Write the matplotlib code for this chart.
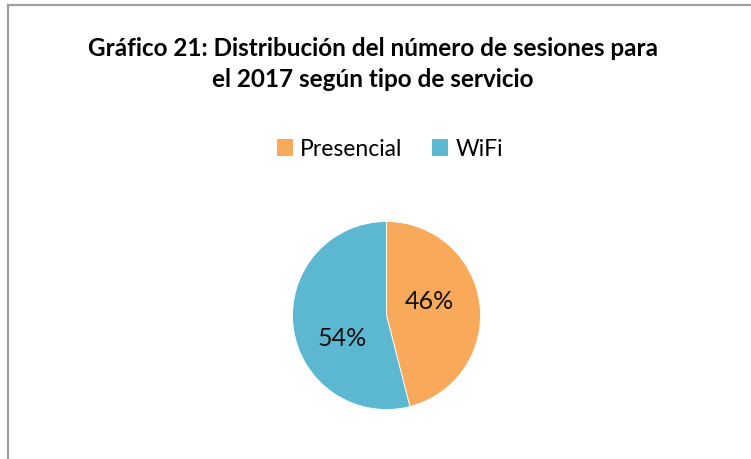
import matplotlib
matplotlib.use("Agg")
from matplotlib import pyplot as plt
from matplotlib.lines import Line2D
from matplotlib.patches import Patch

# data
categories = ["Presencial", "WiFi"]
values = [46, 54]
colors = ["#F9A95A", "#5BB8D0"]
title = "Gráfico 21: Distribución del número de sesiones para\nel 2017 según tipo de servicio"

W, H = 751, 460
fig = plt.figure(figsize=(W / 100, H / 100), dpi=100)
plt.rcParams['font.family'] = ['Lato', 'DejaVu Sans']

# frame of the chart area (left and top edges visible)
fig.add_artist(Line2D([7.5 / W, 7.5 / W], [0, 1 - 5.5 / H], transform=fig.transFigure,
                      color="#A0A0A0", lw=1.6))
fig.add_artist(Line2D([7.5 / W, 1], [1 - 5.5 / H, 1 - 5.5 / H], transform=fig.transFigure,
                      color="#A0A0A0", lw=1.6))

fig.text(373 / W, 1 - 64 / H, title, ha="center", va="center", fontsize=17.5,
         fontweight="bold", linespacing=1.45)

# pie axes, centred at (386.5, 316.5) px with radius ~94 px
cx, cy, r = 386.5, 316.5, 94
ax = fig.add_axes([(cx - r) / W, (H - cy - r) / H, 2 * r / W, 2 * r / H])
wedges, texts, autotexts = ax.pie(values, colors=colors, startangle=90, counterclock=False,
                                  autopct="%1.0f%%", pctdistance=0.5, radius=1,
                                  wedgeprops=dict(linewidth=0.6, edgecolor="white"),
                                  textprops=dict(fontsize=18, color="#111111"))
ax.set_xlim(-1, 1)
ax.set_ylim(-1, 1)
ax.set_aspect("equal")
# label placement as in the source chart
autotexts[0].set_position((0.46, 0.16))
autotexts[1].set_position((-0.47, -0.23))

handles = [Patch(facecolor=c, edgecolor="none") for c in colors]
fig.legend(handles, categories, loc="center", bbox_to_anchor=(390 / W, 1 - 150 / H),
           ncol=2, frameon=False, fontsize=16.5, handlelength=0.7, handleheight=0.7,
           handletextpad=0.3, columnspacing=1.3)

fig.savefig("out.png", dpi=100)
